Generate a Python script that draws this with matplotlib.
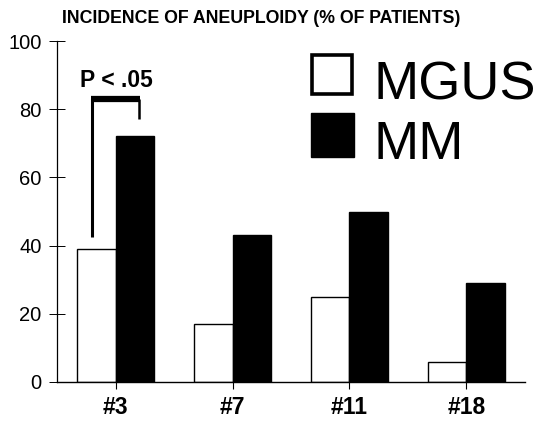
import matplotlib
matplotlib.use("Agg")
import matplotlib.pyplot as plt
import numpy as np
from matplotlib.patches import Rectangle

plt.rcParams['font.family'] = ['Liberation Sans', 'DejaVu Sans']

# chromosome groups and % of patients with aneuploidy
chromosomes = ["#3", "#7", "#11", "#18"]
mgus = [39, 17, 25, 6]
mm = [72, 43, 50, 29]
y_ticks = [0, 20, 40, 60, 80, 100]
p_text = "P < .05"

fig = plt.figure(figsize=(5.41, 4.22), dpi=100)
ax = fig.add_axes([0.1054, 0.0948, 0.8650, 0.8080])

x = np.arange(len(chromosomes))
width = 0.33
ax.bar(x - width / 2, mgus, width, color="white", edgecolor="black", linewidth=1.0)
ax.bar(x + width / 2, mm, width, color="black", edgecolor="black", linewidth=1.0)

ax.set_xlim(-0.5, 3.5)
ax.set_ylim(0, 100)
ax.set_yticks(y_ticks)
ax.set_xticks(x)
ax.set_xticklabels(chromosomes, fontsize=16.5, fontweight="bold")
ax.tick_params(axis="y", direction="inout", length=12, width=0.7, labelsize=14.5, pad=5)
ax.tick_params(axis="x", direction="out", length=5, width=0.8, pad=5)

for side in ("top", "right"):
    ax.spines[side].set_visible(False)
ax.spines["left"].set_linewidth(0.9)
ax.spines["bottom"].set_linewidth(1.0)

# significance bracket over the #3 pair
left_leg = x[0] - width / 2 - 0.035
right_leg = x[0] + width / 2 + 0.035
top = max(mgus[0], mm[0]) + 11
ax.plot([left_leg, left_leg], [mgus[0] + 3.5, top], color="black", lw=2.2, solid_capstyle="butt")
ax.plot([right_leg, right_leg], [mm[0] + 5, top], color="black", lw=1.8, solid_capstyle="butt")
ax.plot([left_leg - 0.01, right_leg + 0.01], [top, top], color="black", lw=4.5, solid_capstyle="butt")
ax.text(x[0] + 0.005, top + 5.5, p_text, ha="center", va="center", fontsize=16.5, fontweight="bold")

fig.text(0.482, 0.955, "INCIDENCE OF ANEUPLOIDY (% OF PATIENTS)", ha="center", va="center",
         fontsize=12.8, fontweight="bold")

# legend drawn by hand: big squares with large labels
fig.patches.append(Rectangle((312 / 541, 1 - 94 / 422), 40 / 541, 39 / 422, transform=fig.transFigure,
                             facecolor="white", edgecolor="black", linewidth=2.6))
fig.patches.append(Rectangle((311 / 541, 1 - 157 / 422), 43 / 541, 44 / 422, transform=fig.transFigure,
                             facecolor="black", edgecolor="black", linewidth=1.0))
fig.text(374 / 541, 1 - 85 / 422, "MGUS", ha="left", va="center", fontsize=39)
fig.text(374 / 541, 1 - 145 / 422, "MM", ha="left", va="center", fontsize=39)

fig.savefig("out.png", dpi=100)
